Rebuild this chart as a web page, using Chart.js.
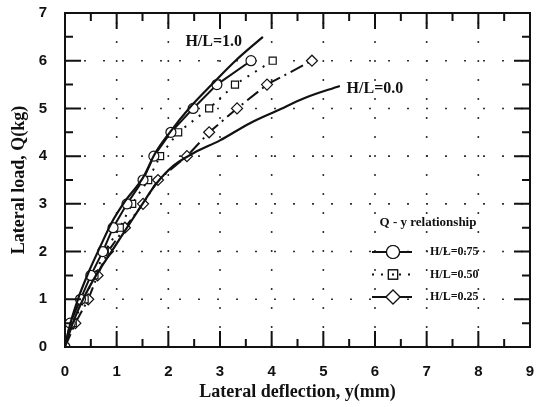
<!DOCTYPE html>
<html><head><meta charset="utf-8">
<script src="https://cdn.jsdelivr.net/npm/chart.js@4.4.0/dist/chart.umd.min.js"></script>
<style>html,body{margin:0;padding:0;background:#fff;}#wrap{width:537px;height:407px;}</style>
</head><body><div id="wrap"><canvas id="c" width="537" height="407"></canvas></div>
<script>
// ---- data ----
const xTickValues = [0,1,2,3,4,5,6,7,8,9];
const yTickValues = [0,1,2,3,4,5,6,7];
const hl10X = [0,0.08,0.25,0.45,0.68,0.9,1.16,1.51,1.74,2.03,2.4,2.84,3.3,3.83];
const hl10Y = [0,0.4,1.0,1.55,2.1,2.6,3.05,3.55,4.05,4.5,5.0,5.5,6.0,6.5];
const hl00X = [0,0.15,0.35,0.6,0.9,1.2,1.5,1.75,2.1,2.5,3.0,3.58,4.1,4.64,5.32];
const hl00Y = [0,0.5,1.0,1.5,2.0,2.5,3.0,3.4,3.8,4.07,4.33,4.69,4.95,5.22,5.47];
const loadSteps = [0,0.5,1,1.5,2,2.5,3,3.5,4,4.5,5,5.5,6];
const hl75X = [0,0.1,0.3,0.5,0.73,0.93,1.2,1.51,1.72,2.05,2.48,2.94,3.6];
const hl50X = [0,0.15,0.38,0.57,0.77,1.06,1.3,1.61,1.84,2.19,2.79,3.29,4.02];
const hl25X = [0,0.2,0.45,0.63,0.83,1.16,1.51,1.8,2.36,2.79,3.33,3.91,4.78];
const seriesNames = ['H/L=0.75','H/L=0.50','H/L=0.25'];
const curveLabels = ['H/L=1.0','H/L=0.0'];

const pts = (xs, ys) => xs.map((v,i)=>({x:v, y:ys[i]}));
const INK = '#111';
const dash50 = [2,7];
const dash25 = [14,5,2,5];

const decor = {
  id:'decor',
  beforeDatasetsDraw(chart){
    const {ctx, chartArea:a, scales:{x,y}} = chart;
    ctx.save();
    ctx.strokeStyle='#333'; ctx.lineWidth=1.6; ctx.setLineDash([2,17]);
    xTickValues.slice(1,-1).forEach(v=>{
      const p=x.getPixelForValue(v);
      ctx.beginPath(); ctx.moveTo(p,a.bottom); ctx.lineTo(p,a.top); ctx.stroke();
    });
    yTickValues.slice(1,-1).forEach(v=>{
      const p=y.getPixelForValue(v);
      ctx.beginPath(); ctx.moveTo(a.left,p); ctx.lineTo(a.right,p); ctx.stroke();
    });
    ctx.restore();
  },
  afterDatasetsDraw(chart){
    const {ctx, chartArea:a, scales:{x,y}} = chart;
    ctx.save();
    ctx.strokeStyle=INK; ctx.setLineDash([]);
    ctx.lineWidth=2;
    ctx.strokeRect(a.left,a.top,a.right-a.left,a.bottom-a.top);
    const maj=16, mn=8;
    for(let v=xTickValues[0]; v<=xTickValues[xTickValues.length-1]; v+=0.5){
      const p=x.getPixelForValue(v); const L = Number.isInteger(v)?maj:mn;
      ctx.beginPath(); ctx.moveTo(p,a.bottom); ctx.lineTo(p,a.bottom-L);
      ctx.moveTo(p,a.top); ctx.lineTo(p,a.top+L); ctx.stroke();
    }
    for(let v=yTickValues[0]; v<=yTickValues[yTickValues.length-1]; v+=0.5){
      const p=y.getPixelForValue(v); const L = Number.isInteger(v)?maj:mn;
      ctx.beginPath(); ctx.moveTo(a.left,p); ctx.lineTo(a.left+L,p);
      ctx.moveTo(a.right,p); ctx.lineTo(a.right-L,p); ctx.stroke();
    }
    ctx.restore();
  },
  afterDraw(chart){
    const {ctx, chartArea:a, scales:{x,y}} = chart;
    ctx.save();
    ctx.fillStyle=INK;
    ctx.font='bold 16px "Liberation Serif"';
    ctx.textBaseline='middle'; ctx.textAlign='left';
    ctx.fillText(curveLabels[0], x.getPixelForValue(2.33), y.getPixelForValue(6.4));
    ctx.fillText(curveLabels[1], x.getPixelForValue(5.45), y.getPixelForValue(5.4));
    // legend
    const lx = a.left + 307, ty = a.top + 210;
    ctx.textAlign='center';
    ctx.font='bold 13px "Liberation Serif"';
    ctx.fillText('Q - y relationship', lx+56, ty);
    const rows = [
      {dash:[], style:'circle'},
      {dash:dash50, style:'rect'},
      {dash:dash25, style:'rectRot'}
    ];
    ctx.font='bold 12px "Liberation Serif"';
    rows.forEach((r,i)=>{
      const yy = ty + 29 + i*22.5;
      ctx.strokeStyle=INK; ctx.lineWidth=2; ctx.setLineDash(r.dash);
      ctx.beginPath(); ctx.moveTo(lx,yy); ctx.lineTo(lx+40,yy); ctx.stroke();
      ctx.setLineDash([]); ctx.lineWidth=1.2;
      Chart.helpers.drawPoint(ctx,{pointStyle:r.style, radius: r.style==='rectRot'?7:6.5, borderWidth:1.2}, lx+21, yy);
      ctx.fillStyle='#fff'; ctx.fill(); ctx.stroke();
      if(r.style==='rect'){ ctx.fillStyle=INK; ctx.fillRect(lx+20,yy-1,2,2); }
      ctx.fillStyle=INK; ctx.textAlign='left';
      ctx.fillText(seriesNames[i], lx+58, yy);
    });
    ctx.restore();
  }
};

const tickFont = {family:'"Liberation Sans", Arial', weight:'bold', size:15};
const titleFont = {family:'"Liberation Serif", "Times New Roman"', weight:'bold', size:18};

new Chart(document.getElementById('c'), {
  type:'line',
  data:{datasets:[
    {label:curveLabels[0], data:pts(hl10X,hl10Y), borderColor:INK, borderWidth:2.2, pointRadius:0, cubicInterpolationMode:'monotone', fill:false},
    {label:curveLabels[1], data:pts(hl00X,hl00Y), borderColor:INK, borderWidth:2.2, pointRadius:0, cubicInterpolationMode:'monotone', fill:false},
    {label:seriesNames[0], data:pts(hl75X,loadSteps), borderColor:INK, borderWidth:2, pointStyle:'circle', pointRadius:5, pointBorderWidth:1.2, pointBackgroundColor:'#fff', pointBorderColor:INK, tension:0, fill:false},
    {label:seriesNames[1], data:pts(hl50X,loadSteps), borderColor:INK, borderWidth:2, borderDash:dash50, pointStyle:'rect', pointRadius:5, pointBorderWidth:1.2, pointBackgroundColor:'#fff', pointBorderColor:INK, tension:0, fill:false},
    {label:seriesNames[2], data:pts(hl25X,loadSteps), borderColor:INK, borderWidth:2, borderDash:dash25, pointStyle:'rectRot', pointRadius:5.5, pointBorderWidth:1.2, pointBackgroundColor:'#fff', pointBorderColor:INK, tension:0, fill:false}
  ]},
  options:{
    responsive:false, animation:false, devicePixelRatio:1,
    layout:{padding:{top:13,right:7,left:0,bottom:0}},
    plugins:{legend:{display:false}, tooltip:{enabled:false}},
    scales:{
      x:{type:'linear', min:0, max:9, afterFit(s){s.height=60; s.paddingLeft=0; s.paddingRight=0;},
        grid:{display:false, drawTicks:false}, border:{display:false},
        afterBuildTicks(s){ s.ticks = xTickValues.map(v=>({value:v})); },
        ticks:{padding:16, color:INK, font:tickFont, maxRotation:0, autoSkip:false},
        title:{display:true, text:'Lateral deflection, y(mm)', color:INK, font:titleFont, padding:{top:0,bottom:4}}},
      y:{type:'linear', min:0, max:7, afterFit(s){s.width=65; s.paddingTop=0; s.paddingBottom=0;},
        grid:{display:false, drawTicks:false}, border:{display:false},
        afterBuildTicks(s){ s.ticks = yTickValues.map(v=>({value:v})); },
        ticks:{padding:18, color:INK, font:tickFont, autoSkip:false},
        title:{display:true, text:'Lateral load, Q(kg)', color:INK, font:titleFont, padding:{top:9,bottom:0}}}
    }
  },
  plugins:[decor]
});
</script></body></html>
